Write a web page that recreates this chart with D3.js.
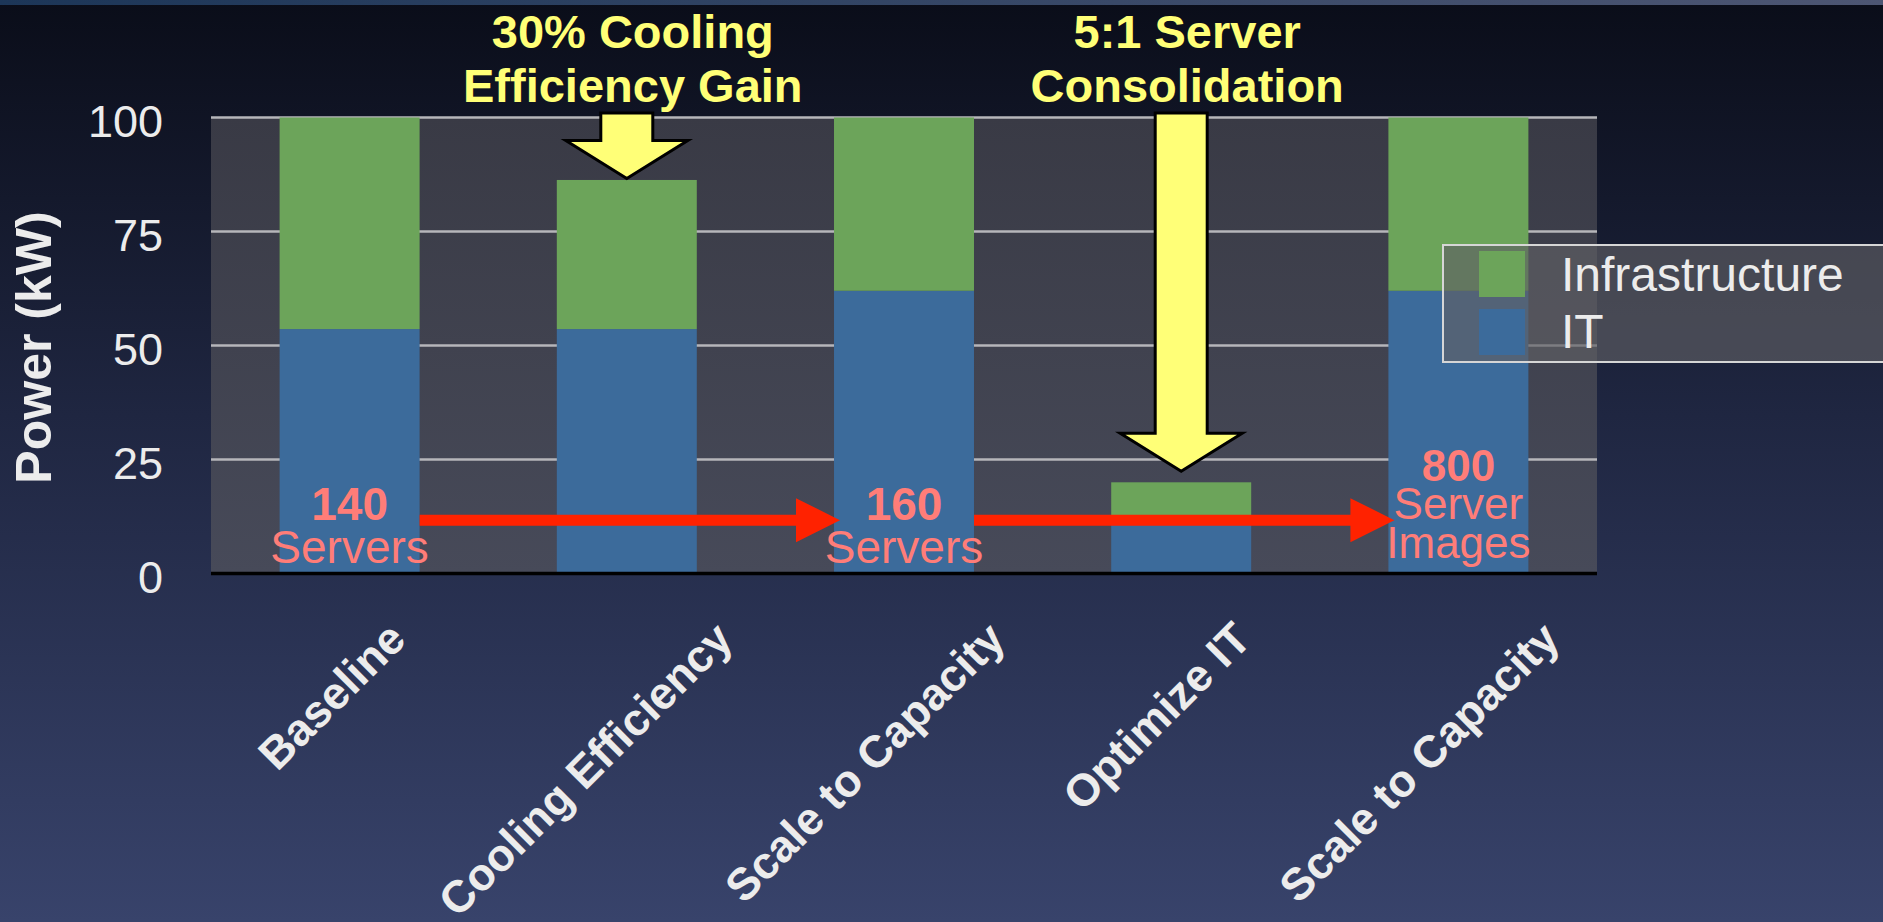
<!doctype html>
<html>
<head>
<meta charset="utf-8">
<script src="https://d3js.org/d3.v7.min.js"></script>
<style>
body { margin: 0; background: #0b0e1b; }
svg { display: block; font-family: "Liberation Sans", Arial, Helvetica, sans-serif; }
</style>
</head>
<body>
<svg id="chart" width="1883" height="922"></svg>
<script>
// data
var categories = ["Baseline", "Cooling Efficiency", "Scale to Capacity", "Optimize IT", "Scale to Capacity"];
var itPower = [53.6, 53.6, 62, 12.4, 62];
var infraPower = [46.4, 32.7, 38, 7.6, 38];
var yTicks = [0, 25, 50, 75, 100];
var legendNames = ["Infrastructure", "IT"];

// annotations
var calloutBars = [1, 3];
var calloutText = [["30% Cooling", "Efficiency Gain"], ["5:1 Server", "Consolidation"]];
var serverBars = [0, 2, 4];
var serverCounts = ["140", "160", "800"];
var serverUnits = [["Servers"], ["Servers"], ["Server", "Images"]];
var arrowLevel = 11.7;   // kW level the red arrows run at

var svg = d3.select("#chart"),
    W = +svg.attr("width"),
    H = +svg.attr("height");

var margin = {left: 211, right: 286, top: 117.5, bottom: 348.5},
    width = W - margin.left - margin.right,
    height = H - margin.top - margin.bottom;

var green = "#6ca45a", blue = "#3c6b9b";

// background
var defs = svg.append("defs");
var bg = defs.append("linearGradient").attr("id", "bg").attr("x1", 0).attr("y1", 0).attr("x2", 0).attr("y2", 1);
bg.append("stop").attr("offset", "0%").attr("stop-color", "#0a0d19");
bg.append("stop").attr("offset", "45%").attr("stop-color", "#1f2641");
bg.append("stop").attr("offset", "100%").attr("stop-color", "#38436b");
var strip = defs.append("linearGradient").attr("id", "strip");
strip.append("stop").attr("offset", "0%").attr("stop-color", "#1c3658");
strip.append("stop").attr("offset", "100%").attr("stop-color", "#4d5673");
var plotBg = defs.append("linearGradient").attr("id", "plotbg").attr("x1", 0).attr("y1", 0).attr("x2", 0).attr("y2", 1);
plotBg.append("stop").attr("offset", "0%").attr("stop-color", "#393a45");
plotBg.append("stop").attr("offset", "100%").attr("stop-color", "#474a59");

svg.append("rect").attr("width", W).attr("height", H).attr("fill", "url(#bg)");
svg.append("rect").attr("width", W).attr("height", 5).attr("fill", "url(#strip)");

var x = d3.scaleBand()
    .domain(d3.range(categories.length))
    .range([0, width])
    .paddingInner(0.495)
    .paddingOuter(0.2475);

var y = d3.scaleLinear().domain([0, 100]).range([height, 0]);

var g = svg.append("g").attr("transform", "translate(" + margin.left + "," + margin.top + ")");

g.append("rect").attr("width", width).attr("height", height).attr("fill", "url(#plotbg)");

// gridlines
g.selectAll(".grid").data(yTicks.filter(function(d) { return d > 0; }))
  .enter().append("line")
    .attr("x1", 0).attr("x2", width)
    .attr("y1", function(d) { return y(d); })
    .attr("y2", function(d) { return y(d); })
    .attr("stroke", "#b6b6ba")
    .attr("stroke-width", 2.5);

// stacked bars
var rows = categories.map(function(c, i) { return {i: i, IT: itPower[i], Infrastructure: infraPower[i]}; });
var stacked = d3.stack().keys(["IT", "Infrastructure"])(rows);
var colors = {IT: blue, Infrastructure: green};

g.selectAll(".layer").data(stacked).enter().append("g")
    .attr("fill", function(d) { return colors[d.key]; })
  .selectAll("rect").data(function(d) { return d; })
  .enter().append("rect")
    .attr("x", function(d) { return x(d.data.i); })
    .attr("y", function(d) { return y(d[1]); })
    .attr("width", x.bandwidth())
    .attr("height", function(d) { return y(d[0]) - y(d[1]); });

// zero line
g.append("line").attr("x1", 0).attr("x2", width).attr("y1", y(0)).attr("y2", y(0))
    .attr("stroke", "#000").attr("stroke-width", 3.5);

// y axis
var yAxis = g.append("g").call(d3.axisLeft(y).tickValues(yTicks).tickSize(0).tickPadding(48));
yAxis.select(".domain").remove();
yAxis.selectAll("text")
    .attr("fill", "#ececec")
    .style("font-size", "45px")
    .style("font-family", "Liberation Sans, Arial, sans-serif")
    .attr("dy", "0.42em");

svg.append("text")
    .attr("transform", "translate(51," + (margin.top + height / 2 + 2) + ")rotate(-90)")
    .attr("text-anchor", "middle")
    .attr("fill", "#ececec")
    .style("font-size", "50px")
    .style("font-weight", "bold")
    .text("Power (kW)");

// x axis, rotated labels
var xAxis = g.append("g").attr("transform", "translate(0," + height + ")")
    .call(d3.axisBottom(x).tickSize(0).tickFormat(function(i) { return categories[i]; }));
xAxis.select(".domain").remove();
xAxis.selectAll("text")
    .attr("fill", "#ececec")
    .style("font-size", "45px")
    .style("font-weight", "bold")
    .style("font-family", "Liberation Sans, Arial, sans-serif")
    .attr("text-anchor", "end")
    .attr("y", 0).attr("dy", 0)
    .each(function() {
        var L = this.getComputedTextLength();
        d3.select(this).attr("transform", "translate(" + (14 + 0.24 * L) + ",68)rotate(-45)");
    });

// red arrows between server counts
var redY = y(arrowLevel);
function redArrow(x1, tip) {
    var p = d3.path();
    p.moveTo(x1, redY - 5.5);
    p.lineTo(tip - 44, redY - 5.5);
    p.lineTo(tip - 44, redY - 22);
    p.lineTo(tip, redY);
    p.lineTo(tip - 44, redY + 22);
    p.lineTo(tip - 44, redY + 5.5);
    p.lineTo(x1, redY + 5.5);
    p.closePath();
    return p.toString();
}
for (var k = 0; k < serverBars.length - 1; k++) {
    g.append("path")
        .attr("d", redArrow(x(serverBars[k]) + x.bandwidth(), x(serverBars[k + 1]) + 6))
        .attr("fill", "#ff2200");
}

// server count labels
serverBars.forEach(function(b, k) {
    var cx = x(b) + x.bandwidth() / 2;
    var twoLine = serverUnits[k].length > 1;
    var base = twoLine ? 363 : 402.5;
    var step = twoLine ? 38.5 : 43;
    var t = g.append("text").attr("text-anchor", "middle").attr("fill", "#ff7d78");
    t.append("tspan").attr("x", cx).attr("y", base)
        .style("font-size", twoLine ? "44px" : "46px").style("font-weight", "bold").text(serverCounts[k]);
    serverUnits[k].forEach(function(line, j) {
        t.append("tspan").attr("x", cx).attr("y", base + step * (j + 1))
            .style("font-size", twoLine ? "44px" : "46px").text(line);
    });
});

// yellow callouts
var tipGap = [1.5, 11];
calloutBars.forEach(function(b, k) {
    var cx = x(b) + x.bandwidth() / 2;
    var total = itPower[b] + infraPower[b];
    var top = -4.5, tip = y(total) - tipGap[k], headY = tip - 38;
    var p = d3.path();
    p.moveTo(cx - 26, top);
    p.lineTo(cx + 26, top);
    p.lineTo(cx + 26, headY);
    p.lineTo(cx + 61, headY);
    p.lineTo(cx, tip);
    p.lineTo(cx - 61, headY);
    p.lineTo(cx - 26, headY);
    p.closePath();
    g.append("path").attr("d", p.toString())
        .attr("fill", "#ffff77").attr("stroke", "#000").attr("stroke-width", 3);

    var t = svg.append("text").attr("text-anchor", "middle").attr("fill", "#ffff77")
        .style("font-size", "47px").style("font-weight", "bold");
    calloutText[k].forEach(function(line, j) {
        t.append("tspan").attr("x", margin.left + cx + 6).attr("y", 48 + 54 * j).text(line);
    });
});

// legend
var legend = svg.append("g").attr("transform", "translate(1443,245)");
legend.append("rect").attr("width", 460).attr("height", 117)
    .attr("fill", "rgba(95,96,100,0.65)").attr("stroke", "#d6d6d6").attr("stroke-width", 2);
legendNames.forEach(function(name, j) {
    legend.append("rect").attr("x", 36).attr("y", 6 + 58 * j).attr("width", 46).attr("height", 46)
        .attr("fill", name === "IT" ? blue : green);
    legend.append("text").attr("x", 118).attr("y", 46 + 57 * j)
        .attr("fill", "#ececec").style("font-size", "48px").text(name);
});
</script>
</body>
</html>
